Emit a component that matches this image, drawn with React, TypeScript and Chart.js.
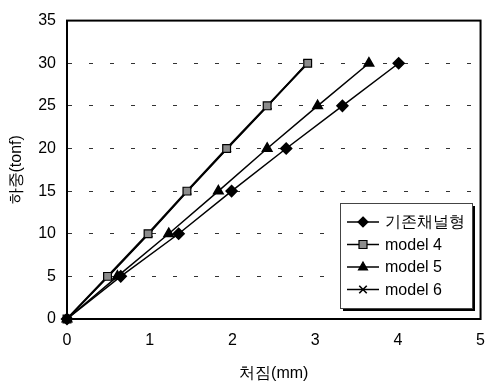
import React, { useEffect, useRef } from "react";
import { Chart, registerables } from "chart.js";

Chart.register(...registerables);

const loads = [0, 5, 10, 15, 20, 25, 30];
const existingDefl = [0, 0.65, 1.35, 1.99, 2.65, 3.33, 4.01];
const model4Defl = [0, 0.49, 0.98, 1.45, 1.93, 2.42, 2.91];
const model5Defl = [0, 0.61, 1.23, 1.83, 2.42, 3.03, 3.65];
const model6Defl = [0, 0.5, 0.99, 1.46, 1.94, 2.43, 2.9];

const seriesNames = ["기존채널형", "model 4", "model 5", "model 6"];
const xTitle = "처짐(mm)";
const yTitle = "하중(tonf)";

const FONT = "'Liberation Sans', Arial, sans-serif";

function drawMarker(ctx: CanvasRenderingContext2D, style: string, x: number, y: number, r: number, fill: string) {
  ctx.save();
  ctx.fillStyle = fill;
  ctx.strokeStyle = "#000";
  ctx.lineWidth = 1.2;
  ctx.beginPath();
  if (style === "rectRot") {
    ctx.moveTo(x, y - r);
    ctx.lineTo(x + r, y);
    ctx.lineTo(x, y + r);
    ctx.lineTo(x - r, y);
    ctx.closePath();
    ctx.fill();
    ctx.stroke();
  } else if (style === "rect") {
    const s = r * 0.8;
    ctx.rect(x - s, y - s, 2 * s, 2 * s);
    ctx.fill();
    ctx.stroke();
  } else if (style === "triangle") {
    ctx.moveTo(x, y - r);
    ctx.lineTo(x + r * 0.9, y + r * 0.6);
    ctx.lineTo(x - r * 0.9, y + r * 0.6);
    ctx.closePath();
    ctx.fill();
    ctx.stroke();
  } else {
    const s = r * 0.75;
    ctx.lineWidth = 1.6;
    ctx.moveTo(x - s, y - s);
    ctx.lineTo(x + s, y + s);
    ctx.moveTo(x + s, y - s);
    ctx.lineTo(x - s, y + s);
    ctx.stroke();
  }
  ctx.restore();
}

const framePlugin = {
  id: "frameAndLegend",
  afterDraw(chart: any) {
    const { ctx, chartArea } = chart;
    ctx.save();
    ctx.strokeStyle = "#000";
    ctx.lineWidth = 2;
    ctx.strokeRect(chartArea.left, chartArea.top, chartArea.right - chartArea.left, chartArea.bottom - chartArea.top);
    // legend
    const bx = 340, by = 203, bw = 132, bh = 105;
    ctx.fillStyle = "#000";
    ctx.fillRect(bx + 3, by + 3, bw, bh);
    ctx.fillStyle = "#fff";
    ctx.fillRect(bx, by, bw, bh);
    ctx.lineWidth = 1;
    ctx.strokeStyle = "#444";
    ctx.strokeRect(bx + 0.5, by + 0.5, bw, bh);
    const rows = [222, 244.5, 267, 289.5];
    chart.data.datasets.forEach((ds: any, i: number) => {
      const y = rows[i];
      ctx.strokeStyle = "#000";
      ctx.lineWidth = 1.5;
      ctx.beginPath();
      ctx.moveTo(347, y);
      ctx.lineTo(379, y);
      ctx.stroke();
      drawMarker(ctx, ds.pointStyle, 363, y, 5, ds.pointBackgroundColor);
      ctx.fillStyle = "#000";
      ctx.font = "16px " + FONT;
      ctx.textBaseline = "middle";
      ctx.textAlign = "left";
      ctx.fillText(ds.label, 385, y + 1);
    });
    ctx.restore();
  },
};

export default function App() {
  const ref = useRef<HTMLCanvasElement>(null);
  useEffect(() => {
    document.body.style.margin = "0";
    const mk = (vals: number[]) => vals.map((x, i) => ({ x, y: loads[i] }));
    const chart = new Chart(ref.current!, {
      type: "scatter",
      data: {
        datasets: [
          {
            label: seriesNames[0],
            data: mk(existingDefl),
            showLine: true,
            clip: false,
            borderColor: "#000",
            borderWidth: 1.5,
            pointStyle: "rectRot",
            pointRadius: 5.5,
            pointBackgroundColor: "#000",
            pointBorderColor: "#000",
          },
          {
            label: seriesNames[1],
            data: mk(model4Defl),
            showLine: true,
            clip: false,
            borderColor: "#000",
            borderWidth: 2,
            pointStyle: "rect",
            pointRadius: 5.5,
            pointBackgroundColor: "#8c8c8c",
            pointBorderColor: "#000",
            pointBorderWidth: 1.2,
          },
          {
            label: seriesNames[2],
            data: mk(model5Defl),
            showLine: true,
            clip: false,
            borderColor: "#000",
            borderWidth: 1.5,
            pointStyle: "triangle",
            pointRadius: 5.5,
            pointBackgroundColor: "#000",
            pointBorderColor: "#000",
          },
          {
            label: seriesNames[3],
            data: mk(model6Defl),
            showLine: true,
            clip: false,
            borderColor: "#000",
            borderWidth: 1.5,
            pointStyle: "crossRot",
            pointRadius: 5,
            pointBackgroundColor: "#000",
            pointBorderColor: "#000",
            pointBorderWidth: 1.5,
          },
        ],
      },
      options: {
        responsive: false,
        animation: false,
        layout: { padding: { left: 0, top: 11, right: 11, bottom: 0 } },
        plugins: { legend: { display: false }, tooltip: { enabled: false } },
        scales: {
          x: {
            type: "linear",
            min: 0,
            max: 5,
            ticks: { stepSize: 1, color: "#000", font: { family: FONT, size: 16 }, padding: 12 },
            grid: { display: false, drawTicks: false },
            border: { display: true, color: "#000", width: 2 },
            title: { display: true, text: xTitle, color: "#000", font: { family: FONT, size: 16 }, padding: { top: 0, bottom: 1 } },
            afterFit: (s: any) => { s.height = 65; },
          },
          y: {
            type: "linear",
            min: 0,
            max: 35,
            ticks: { stepSize: 5, color: "#000", font: { family: FONT, size: 16 }, padding: 11 },
            grid: { display: true, drawTicks: false, color: "#333", lineWidth: 1 },
            border: { display: true, color: "#000", width: 2, dash: [4, 17] },
            title: { display: true, text: yTitle, color: "#000", font: { family: FONT, size: 16 }, padding: { top: 7, bottom: 0 } },
            afterFit: (s: any) => { s.width = 67; },
          },
        },
      },
      plugins: [framePlugin],
    });
    return () => chart.destroy();
  }, []);
  return (
    <div style={{ position: "fixed", left: 0, top: 0, width: 497, height: 384, background: "#fff" }}>
      <canvas ref={ref} width={497} height={384} />
    </div>
  );
}
